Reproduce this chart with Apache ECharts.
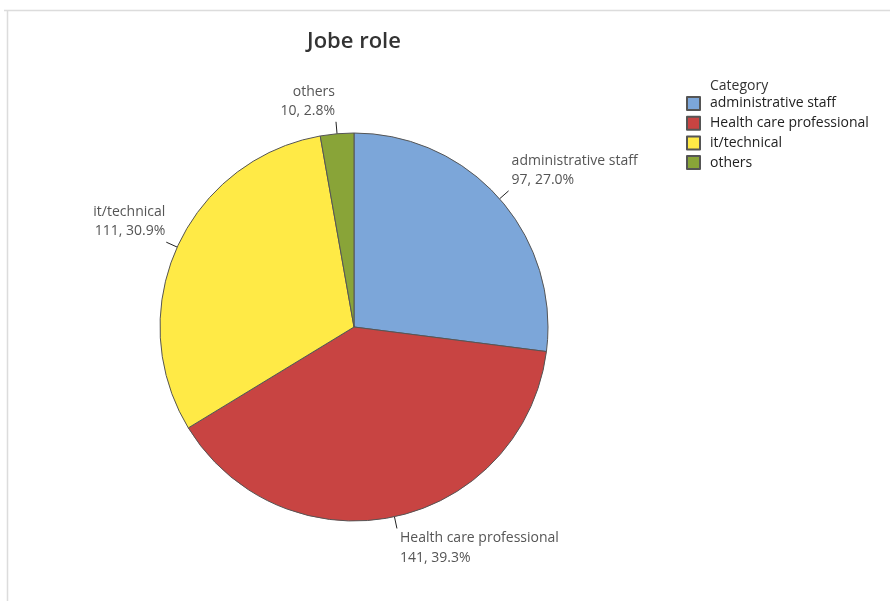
<!DOCTYPE html>
<html>
<head>
<meta charset="utf-8">
<script src="https://cdn.jsdelivr.net/npm/echarts@6/dist/echarts.min.js"></script>
<style>
  html, body { margin: 0; padding: 0; background: #fff; }
  #chart { width: 890px; height: 601px; }
</style>
</head>
<body>
<div id="chart"></div>
<script>
// Job role breakdown: counts per category
const categories = ['administrative staff', 'Health care professional', 'it/technical', 'others'];
const counts = [97, 141, 111, 10];
const sliceColors = ['#7CA6D9', '#C84442', '#FFEA46', '#89A438'];

const chart = echarts.init(document.getElementById('chart'));
const FONT = '"Open Sans", "Noto Sans", sans-serif';
const CX = 354, CY = 327;

chart.setOption({
  animation: false,
  title: {
    text: 'Category',
    left: 705, top: 74,
    textStyle: { fontFamily: FONT, fontSize: 14, fontWeight: 'normal', color: '#333' }
  },
  legend: {
    orient: 'vertical',
    left: 681, top: 91,
    itemWidth: 13, itemHeight: 13, itemGap: 4.7,
    icon: 'rect',
    data: categories,
    textStyle: { fontFamily: FONT, fontSize: 14, color: '#222', padding: [0, 0, 0, 5] }
  },
  graphic: [
    { type: 'line', shape: { x1: 4, y1: 10.5, x2: 890, y2: 10.5 }, style: { stroke: '#dcdcdc', lineWidth: 1.5 } },
    { type: 'line', shape: { x1: 7.5, y1: 10, x2: 7.5, y2: 601 }, style: { stroke: '#dcdcdc', lineWidth: 1.5 } },
    {
      type: 'text', x: CX, y: 42,
      style: {
        text: 'Jobe role', textAlign: 'center', textVerticalAlign: 'middle',
        font: '600 22px ' + FONT, fill: '#333'
      }
    }
  ],
  series: [{
    type: 'pie',
    center: [CX, CY],
    radius: 194,
    startAngle: 90,
    clockwise: true,
    percentPrecision: 1,
    data: categories.map((name, i) => ({ name, value: counts[i], itemStyle: { color: sliceColors[i] } })),
    itemStyle: { borderColor: '#555', borderWidth: 1 },
    label: {
      show: true,
      position: 'outside',
      formatter: p => p.name + '\n' + p.value + ', ' + p.percent.toFixed(1) + '%',
      fontFamily: FONT, fontSize: 14, color: '#555', lineHeight: 19.5
    },
    labelLine: { show: true, length: 12, length2: 0, lineStyle: { color: '#222', width: 1 } },
    // Labels sit above the leader end in the upper half, below it in the lower half
    labelLayout: function (params) {
      const pts = params.labelLinePoints;
      if (!pts) return {};
      const end = pts[pts.length - 1];
      const right = end[0] >= CX;
      const upper = end[1] < CY;
      return {
        x: end[0] + (right ? 3 : -1),
        y: end[1] - (upper ? 1 : 0),
        align: right ? 'left' : 'right',
        verticalAlign: upper ? 'bottom' : 'top',
        labelLinePoints: pts
      };
    },
    emphasis: { disabled: true }
  }]
});
</script>
</body>
</html>
